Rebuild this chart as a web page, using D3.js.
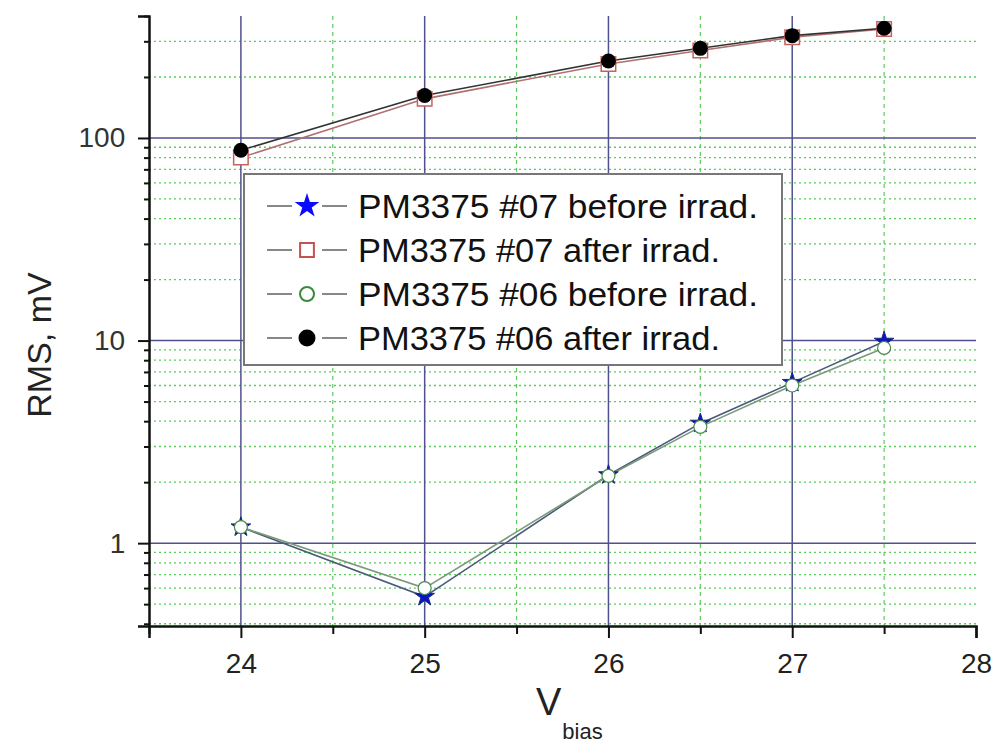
<!DOCTYPE html>
<html>
<head>
<meta charset="utf-8">
<script src="https://cdn.jsdelivr.net/npm/d3@7"></script>
<style>
  html, body { margin: 0; padding: 0; background: #fff; }
  svg { display: block; font-family: "Liberation Sans", Arial, sans-serif; }
</style>
</head>
<body>
<svg id="chart" width="995" height="747"></svg>
<script>
// ---- data ----
const vbias = [24, 25, 26, 26.5, 27, 27.5];
const pm07Before = [1.2, 0.545, 2.17, 3.9, 6.2, 9.9];
const pm07After = [80, 156, 232, 270, 314, 345];
const pm06Before = [1.2, 0.6, 2.15, 3.75, 6.0, 9.2];
const pm06After = [87, 162, 240, 277, 320, 348];
const seriesNames = [
  "PM3375 #07 before irrad.",
  "PM3375 #07 after irrad.",
  "PM3375 #06 before irrad.",
  "PM3375 #06 after irrad."
];
const xTickValues = [24, 25, 26, 27, 28];
const xMinorTicks = [23.5, 24.5, 25.5, 26.5, 27.5];
const yTickValues = [1, 10, 100];

// ---- layout ----
const svg = d3.select("#chart");
const pLeft = 149, pRight = 976, pTop = 16, pBottom = 626;
const x = d3.scaleLinear().domain([23.5, 28]).range([pLeft, pRight]);
const y = d3.scaleLog().domain([0.39, 400]).range([pBottom, pTop]);

const navy = "#50508e";
const green = "#5ccc5c";

// minor log values
const minorVals = [];
[0.1, 1, 10, 100].forEach(d => {
  for (let k = 2; k <= 9; k++) {
    const v = +(d * k).toPrecision(6);
    if (v >= 0.39 && v <= 400) minorVals.push(v);
  }
});

const grid = svg.append("g");
grid.selectAll("line.hmin").data(minorVals.filter(v => v < 399)).join("line")
  .attr("x1", pLeft).attr("x2", pRight)
  .attr("y1", d => y(d)).attr("y2", d => y(d))
  .attr("stroke", green).attr("stroke-width", 1.3)
  .attr("stroke-dasharray", "2,3");
grid.selectAll("line.vmin").data(xMinorTicks.filter(d => d > 23.5)).join("line")
  .attr("x1", d => x(d)).attr("x2", d => x(d))
  .attr("y1", pTop).attr("y2", pBottom)
  .attr("stroke", green).attr("stroke-width", 1.2)
  .attr("stroke-dasharray", "4,4");
grid.selectAll("line.hmaj").data(yTickValues).join("line")
  .attr("x1", pLeft).attr("x2", pRight)
  .attr("y1", d => y(d)).attr("y2", d => y(d))
  .attr("stroke", navy).attr("stroke-width", 1.5);
grid.selectAll("line.vmaj").data(xTickValues.filter(d => d < 28)).join("line")
  .attr("x1", d => x(d)).attr("x2", d => x(d))
  .attr("y1", pTop).attr("y2", pBottom)
  .attr("stroke", navy).attr("stroke-width", 1.5);

// ---- axes ----
const axisG = svg.append("g");
const xAxis = d3.axisBottom(x).tickValues(xTickValues).tickSize(12).tickFormat(d3.format("d"));
const xg = axisG.append("g").attr("transform", `translate(0,${pBottom})`).call(xAxis);
xg.select(".domain").attr("stroke", "#111").attr("stroke-width", 2.5);
xg.selectAll(".tick line").attr("stroke", "#111").attr("stroke-width", 2);
xg.selectAll(".tick text").attr("font-size", 28).attr("fill", "#222").attr("dy", "1.15em")
  .attr("font-family", "Liberation Sans, Arial, sans-serif");
const xMinorAxis = d3.axisBottom(x).tickValues(xMinorTicks).tickSize(8).tickFormat("");
const xm = axisG.append("g").attr("transform", `translate(0,${pBottom})`).call(xMinorAxis);
xm.select(".domain").remove();
xm.selectAll(".tick line").attr("stroke", "#111").attr("stroke-width", 2);

const yAxis = d3.axisLeft(y).tickValues(yTickValues).tickSize(11).tickFormat(d3.format("d"));
const yg = axisG.append("g").attr("transform", `translate(${pLeft},0)`).call(yAxis);
yg.select(".domain").attr("stroke", "#111").attr("stroke-width", 2.5);
yg.selectAll(".tick line").attr("stroke", "#111").attr("stroke-width", 2);
yg.selectAll(".tick text").attr("font-size", 28).attr("fill", "#333").attr("dx", "-0.35em")
  .attr("font-family", "Liberation Sans, Arial, sans-serif");
const yMinorAxis = d3.axisLeft(y).tickValues(minorVals).tickSize(5).tickFormat("");
const ym = axisG.append("g").attr("transform", `translate(${pLeft},0)`).call(yMinorAxis);
ym.select(".domain").remove();
ym.selectAll(".tick line").attr("stroke", "#111").attr("stroke-width", 2);

svg.append("text")
  .attr("transform", `translate(51,${(pTop + pBottom) / 2 + 24}) rotate(-90)`)
  .attr("text-anchor", "middle").attr("font-size", 34).attr("fill", "#222")
  .text("RMS, mV");
const vt = svg.append("text").attr("x", 536).attr("y", 715).attr("font-size", 38).attr("fill", "#222");
vt.append("tspan").text("V");
vt.append("tspan").attr("font-size", 22).attr("dy", 24).attr("dx", 1).text("bias");

// ---- series ----
const line = d3.line().x(d => x(d[0])).y(d => y(d[1]));
const zip = arr => vbias.map((v, i) => [v, arr[i]]);
const plot = svg.append("g");
plot.append("path").datum(zip(pm07After)).attr("d", line).attr("fill", "none").attr("stroke", "#b07070").attr("stroke-width", 1.6);
plot.append("path").datum(zip(pm06After)).attr("d", line).attr("fill", "none").attr("stroke", "#333").attr("stroke-width", 1.6);
plot.append("path").datum(zip(pm07Before)).attr("d", line).attr("fill", "none").attr("stroke", "#4a5a7a").attr("stroke-width", 1.6);
plot.append("path").datum(zip(pm06Before)).attr("d", line).attr("fill", "none").attr("stroke", "#7a9a7a").attr("stroke-width", 1.6);

const star = d3.symbol().type(d3.symbolStar).size(120);
const square = d3.symbol().type(d3.symbolSquare).size(210);

plot.selectAll("path.sq").data(zip(pm07After)).join("path")
  .attr("d", square).attr("transform", d => `translate(${x(d[0])},${y(d[1])})`)
  .attr("fill", "#fff").attr("stroke", "#c86060").attr("stroke-width", 1.5);
plot.selectAll("circle.dot").data(zip(pm06After)).join("circle")
  .attr("cx", d => x(d[0])).attr("cy", d => y(d[1])).attr("r", 7.5).attr("fill", "#000");
plot.selectAll("path.st").data(zip(pm07Before)).join("path")
  .attr("d", star).attr("transform", d => `translate(${x(d[0])},${y(d[1])})`)
  .attr("fill", "#0a14c8").attr("stroke", "#1a2a7a").attr("stroke-width", 1);
plot.selectAll("circle.oc").data(zip(pm06Before)).join("circle")
  .attr("cx", d => x(d[0])).attr("cy", d => y(d[1])).attr("r", 6.5)
  .attr("fill", "#fff").attr("stroke", "#4a8a4a").attr("stroke-width", 1.2);

// ---- legend ----
const lg = svg.append("g");
lg.append("rect").attr("x", 244).attr("y", 174).attr("width", 538).attr("height", 191)
  .attr("fill", "#fff").attr("stroke", "#777").attr("stroke-width", 2);
const rowY = i => 206 + i * 44;
seriesNames.forEach((name, i) => {
  const yy = rowY(i);
  lg.append("line").attr("x1", 267).attr("x2", 292).attr("y1", yy).attr("y2", yy).attr("stroke", "#888").attr("stroke-width", 2);
  lg.append("line").attr("x1", 322).attr("x2", 347).attr("y1", yy).attr("y2", yy).attr("stroke", "#888").attr("stroke-width", 2);
  lg.append("text").attr("x", 358).attr("y", yy + 12).attr("font-size", 33).attr("fill", "#111")
    .attr("textLength", i % 2 === 0 ? 400 : 362).attr("lengthAdjust", "spacingAndGlyphs")
    .text(name);
});
lg.append("path").attr("d", d3.symbol().type(d3.symbolStar).size(190)).attr("transform", `translate(307,${rowY(0)})`).attr("fill", "#0a0aff");
lg.append("path").attr("d", d3.symbol().type(d3.symbolSquare).size(190)).attr("transform", `translate(307,${rowY(1)})`)
  .attr("fill", "#fff").attr("stroke", "#c85050").attr("stroke-width", 2);
lg.append("circle").attr("cx", 307).attr("cy", rowY(2)).attr("r", 7).attr("fill", "#fff").attr("stroke", "#3a8a3a").attr("stroke-width", 2);
lg.append("circle").attr("cx", 307).attr("cy", rowY(3)).attr("r", 8.5).attr("fill", "#000");
</script>
</body>
</html>
